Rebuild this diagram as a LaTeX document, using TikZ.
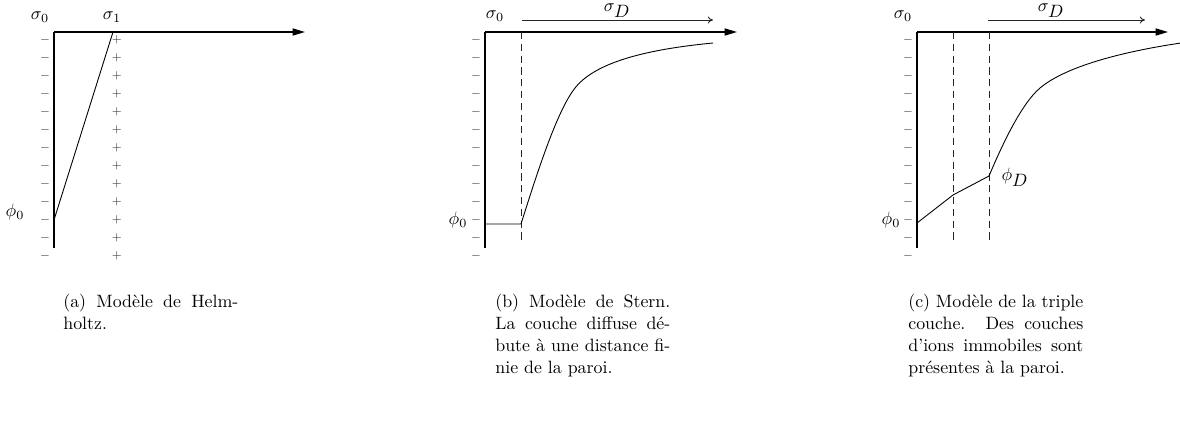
\documentclass[tikz,border=0pt]{standalone}
\usepackage{fontspec}
\usetikzlibrary{arrows.meta}
\tikzset{
  wall/.style={line width=1.4pt},
  axisline/.style={line width=0.8pt,-{Triangle[length=7pt,width=4pt]}},
  profile/.style={line width=0.5pt},
  guide/.style={line width=0.5pt,dash pattern=on 4pt off 2.6pt,black!85},
  flux/.style={line width=0.5pt,-{To[length=3pt,width=4pt]},black!85},
  charge/.style={inner sep=0pt,font=\fontsize{6.5}{6.5}\selectfont,black!80},
  lbl/.style={inner sep=0pt},
  captext/.style={anchor=north west,inner sep=0pt,align=left,font=\fontsize{10}{12.3}\selectfont}
}
\begin{document}
\begin{tikzpicture}[x=0.56pt,y=-0.56pt]
\useasboundingbox (0,0) rectangle (1180,421);
% ---------- panel (a) ----------
\coordinate (a0) at (54,32);
\coordinate (abot) at (54,248);
\coordinate (aend) at (305,32);
\draw[axisline] (a0) -- (aend);
\draw[wall] (a0) -- (abot);
\foreach \k in {0,...,12}{
  \node[charge] (am\k) at (45,{40+18*\k}) {$-$};
  \node[charge] (ap\k) at (117,{40+18*\k}) {$+$};
}
\node[lbl] (as0) at (40,17) {$\sigma_0$};
\node[lbl] (as1) at (112,17) {$\sigma_1$};
\coordinate (a1) at (113,32);
\coordinate (aphi) at (54,220);
\draw[profile] (a1) -- (aphi);
\node[lbl] (aphil) at (15,212) {$\phi_0$};
% ---------- panel (b) ----------
\coordinate (b0) at (485,32);
\coordinate (bbot) at (485,248);
\coordinate (bend) at (737,32);
\draw[axisline] (b0) -- (bend);
\draw[wall] (b0) -- (bbot);
\foreach \k in {0,...,12}{
  \node[charge] (bm\k) at (476,{40+18*\k}) {$-$};
}
\node[lbl] (bs0) at (495,16) {$\sigma_0$};
\coordinate (bdt) at (521,32);
\coordinate (bdb) at (521,244);
\draw[guide] (bdt) -- (bdb);
\coordinate (bphi0) at (485,224);
\coordinate (bD) at (521,224);
\coordinate (bm) at (575,88);
\coordinate (bfar) at (713,43);
\draw[profile] (bphi0) -- (bD) .. controls (535,180) and (556,112) .. (bm)
  .. controls (594,64) and (640,50) .. (bfar);
\node[lbl] (bphil) at (458,220) {$\phi_0$};
\coordinate (bfs) at (522,20);
\coordinate (bfe) at (713,20);
\draw[flux] (bfs) -- (bfe);
\node[lbl] (bsD) at (617,11) {$\sigma_{\textstyle D}$};
% ---------- panel (c) ----------
\coordinate (c0) at (917,32);
\coordinate (cbot) at (917,248);
\coordinate (cend) at (1168,32);
\draw[axisline] (c0) -- (cend);
\draw[wall] (c0) -- (cbot);
\foreach \k in {0,...,12}{
  \node[charge] (cm\k) at (908,{40+18*\k}) {$-$};
}
\node[lbl] (cs0) at (903,16) {$\sigma_0$};
\coordinate (cd1t) at (953,32);
\coordinate (cd1b) at (953,244);
\coordinate (cd2t) at (989,32);
\coordinate (cd2b) at (989,244);
\draw[guide] (cd1t) -- (cd1b);
\draw[guide] (cd2t) -- (cd2b);
\coordinate (cphi0) at (917,223);
\coordinate (cmid) at (953,195);
\coordinate (cD) at (989,176);
\coordinate (cm) at (1040,88);
\coordinate (cfar) at (1181,43);
\draw[profile] (cphi0) -- (cmid) -- (cD) .. controls (1000,150) and (1020,105) .. (cm)
  .. controls (1065,67) and (1120,52) .. (cfar);
\node[lbl] (cphil) at (891,220) {$\phi_0$};
\node[lbl] (cphiD) at (1015,177) {$\phi_{\textstyle D}$};
\coordinate (cfs) at (988,20);
\coordinate (cfe) at (1145,20);
\draw[flux] (cfs) -- (cfe);
\node[lbl] (csD) at (1051,11) {$\sigma_{\textstyle D}$};
% ---------- captions ----------
\node[captext] (capa) at (63,294) {\makebox[98pt][s]{(a) Modèle de Helm-}\\holtz.};
\node[captext] (capb) at (495,294) {\makebox[98pt][s]{(b) Modèle de Stern.}\\\makebox[98pt][s]{La couche diffuse dé-}\\\makebox[98pt][s]{bute à une distance fi-}\\nie de la paroi.};
\node[captext] (capc) at (908,294) {\makebox[98pt][s]{(c) Modèle de la triple}\\\makebox[98pt][s]{couche. Des couches}\\\makebox[98pt][s]{d'ions immobiles sont}\\présentes à la paroi.};
\end{tikzpicture}
\end{document}
